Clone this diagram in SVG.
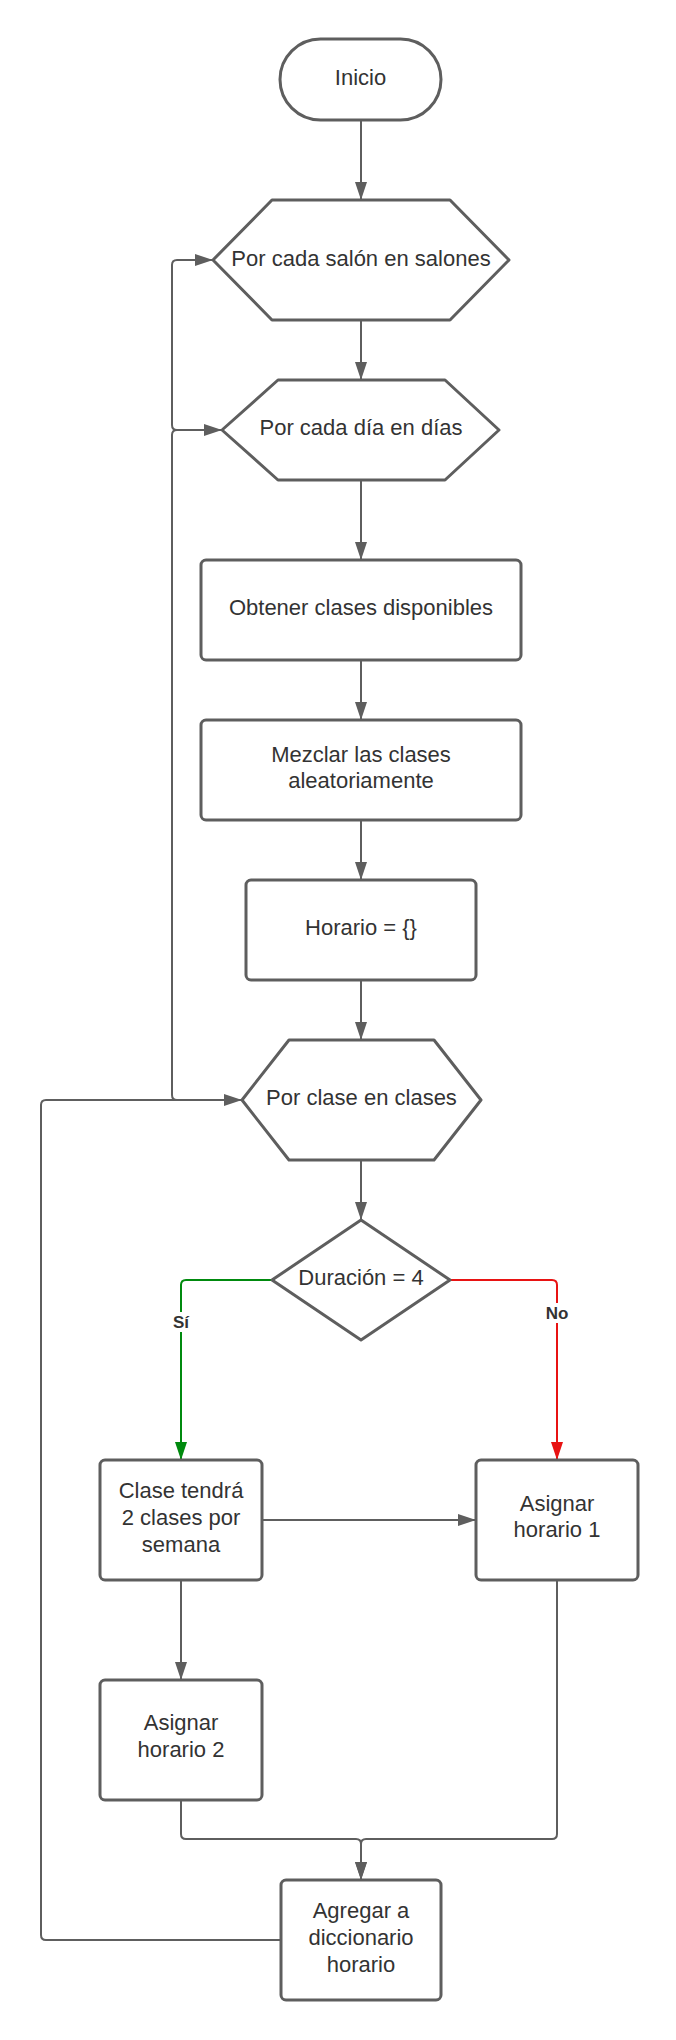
<svg xmlns="http://www.w3.org/2000/svg" width="676" height="2040" viewBox="0 0 676 2040">
<style>
.node{fill:#ffffff;stroke:#5e5e5e;stroke-width:3;stroke-linejoin:round}
.t{font-family:"Liberation Sans",Arial,sans-serif;font-size:22px;fill:#333333;text-anchor:middle}
.lbl{font-family:"Liberation Sans",Arial,sans-serif;font-size:17px;font-weight:bold;fill:#333333;text-anchor:middle}
.c{fill:none;stroke:#5e5e5e;stroke-width:2}
.g{fill:none;stroke:#008a0e;stroke-width:2}
.r{fill:none;stroke:#e81313;stroke-width:2}
</style>
<defs>
<marker id="ah" markerUnits="userSpaceOnUse" markerWidth="18" markerHeight="12" refX="18" refY="6" orient="auto"><path d="M0,0 L18,6 L0,12 z" fill="#5e5e5e"/></marker>
<marker id="ahg" markerUnits="userSpaceOnUse" markerWidth="18" markerHeight="12" refX="18" refY="6" orient="auto"><path d="M0,0 L18,6 L0,12 z" fill="#008a0e"/></marker>
<marker id="ahr" markerUnits="userSpaceOnUse" markerWidth="18" markerHeight="12" refX="18" refY="6" orient="auto"><path d="M0,0 L18,6 L0,12 z" fill="#e81313"/></marker>
</defs>
<rect width="676" height="2040" fill="#ffffff"/>
<g id="connectors">
<path class="c" d="M361,120 V200" marker-end="url(#ah)"/>
<path class="c" d="M361,320 V380" marker-end="url(#ah)"/>
<path class="c" d="M361,480 V560" marker-end="url(#ah)"/>
<path class="c" d="M361,660 V720" marker-end="url(#ah)"/>
<path class="c" d="M361,820 V880" marker-end="url(#ah)"/>
<path class="c" d="M361,980 V1040" marker-end="url(#ah)"/>
<path class="c" d="M361,1160 V1220" marker-end="url(#ah)"/>
<path class="g" d="M272,1280 H186 Q181,1280 181,1285 V1460" marker-end="url(#ahg)"/>
<path class="r" d="M450,1280 H552 Q557,1280 557,1285 V1460" marker-end="url(#ahr)"/>
<path class="c" d="M262,1520 H476" marker-end="url(#ah)"/>
<path class="c" d="M181,1580 V1680" marker-end="url(#ah)"/>
<path class="c" d="M181,1800 V1834 Q181,1839 186,1839 H356 Q361,1839 361,1844 V1880" marker-end="url(#ah)"/>
<path class="c" d="M557,1580 V1834 Q557,1839 552,1839 H366 Q361,1839 361,1844 V1880" marker-end="url(#ah)"/>
<path class="c" d="M281,1940 H46 Q41,1940 41,1935 V1105 Q41,1100 46,1100 H242" marker-end="url(#ah)"/>
<path class="c" d="M242,1100 H177 Q172,1100 172,1095 V435 Q172,430 177,430 H222" marker-end="url(#ah)"/>
<path class="c" d="M177,430 Q172,430 172,425 V265 Q172,260 177,260 H213" marker-end="url(#ah)"/>
<rect x="171" y="1312" width="20" height="20" fill="#ffffff"/>
<text class="lbl" x="181" y="1328">Sí</text>
<rect x="543" y="1303" width="28" height="20" fill="#ffffff"/>
<text class="lbl" x="557" y="1319">No</text>
</g>
<g id="inicio">
<rect class="node" x="280" y="39" width="161" height="81" rx="40.5"/>
<text class="t" x="360.5" y="85">Inicio</text>
</g>
<g id="salones">
<polygon class="node" points="213,260 272,200 450,200 509,260 450,320 272,320"/>
<text class="t" x="361" y="266">Por cada salón en salones</text>
</g>
<g id="dias">
<polygon class="node" points="222,430 278,380 445,380 499,430 445,480 278,480"/>
<text class="t" x="361" y="435">Por cada día en días</text>
</g>
<g id="obtener">
<rect class="node" x="201" y="560" width="320" height="100" rx="5"/>
<text class="t" x="361" y="615">Obtener clases disponibles</text>
</g>
<g id="mezclar">
<rect class="node" x="201" y="720" width="320" height="100" rx="5"/>
<text class="t" x="361" y="762">Mezclar las clases</text>
<text class="t" x="361" y="788">aleatoriamente</text>
</g>
<g id="horario">
<rect class="node" x="246" y="880" width="230" height="100" rx="5"/>
<text class="t" x="361" y="935">Horario = {}</text>
</g>
<g id="clases">
<polygon class="node" points="242,1100 289,1040 434,1040 481,1100 434,1160 289,1160"/>
<text class="t" x="361.5" y="1105">Por clase en clases</text>
</g>
<g id="duracion">
<polygon class="node" points="361,1220 450,1280 361,1340 272,1280"/>
<text class="t" x="361" y="1285">Duración = 4</text>
</g>
<g id="clase2">
<rect class="node" x="100" y="1460" width="162" height="120" rx="5"/>
<text class="t" x="181" y="1498">Clase tendrá</text>
<text class="t" x="181" y="1525">2 clases por</text>
<text class="t" x="181" y="1552">semana</text>
</g>
<g id="asignar1">
<rect class="node" x="476" y="1460" width="162" height="120" rx="5"/>
<text class="t" x="557" y="1511">Asignar</text>
<text class="t" x="557" y="1537">horario 1</text>
</g>
<g id="asignar2">
<rect class="node" x="100" y="1680" width="162" height="120" rx="5"/>
<text class="t" x="181" y="1730">Asignar</text>
<text class="t" x="181" y="1757">horario 2</text>
</g>
<g id="agregar">
<rect class="node" x="281" y="1880" width="160" height="120" rx="5"/>
<text class="t" x="361" y="1918">Agregar a</text>
<text class="t" x="361" y="1945">diccionario</text>
<text class="t" x="361" y="1972">horario</text>
</g>
</svg>
